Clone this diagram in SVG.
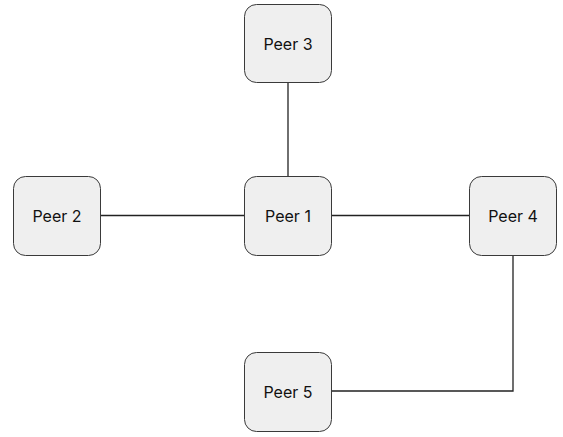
<svg xmlns="http://www.w3.org/2000/svg" width="563" height="437" viewBox="0 0 563 437">
<style>
.box{fill:#efefef;stroke:#3a3a3a;stroke-width:1}
.lbl{font-family:Inter,"Noto Sans",sans-serif;font-size:16px;fill:#111;text-anchor:middle;dominant-baseline:central}
.edge{fill:none;stroke:#222;stroke-width:1.3}
</style>
<rect width="563" height="437" fill="#fff"/>
<g id="connectors">
<path class="edge" d="M288 83V176.5"/>
<path class="edge" d="M100.5 215.5H244.5"/>
<path class="edge" d="M331.5 215.5H469.5"/>
<path class="edge" d="M513 255.5V391H331.5"/>
</g>
<g id="peer3"><rect class="box" x="244.5" y="4.5" width="87" height="78" rx="12"/><text class="lbl" x="288" y="44">Peer 3</text></g>
<g id="peer2"><rect class="box" x="13.5" y="176.5" width="87" height="79" rx="12"/><text class="lbl" x="57" y="216">Peer 2</text></g>
<g id="peer1"><rect class="box" x="244.5" y="176.5" width="87" height="79" rx="12"/><text class="lbl" x="288" y="216">Peer 1</text></g>
<g id="peer4"><rect class="box" x="469.5" y="176.5" width="87" height="79" rx="12"/><text class="lbl" x="513" y="216">Peer 4</text></g>
<g id="peer5"><rect class="box" x="244.5" y="352.5" width="87" height="79" rx="12"/><text class="lbl" x="288" y="392">Peer 5</text></g>
</svg>
